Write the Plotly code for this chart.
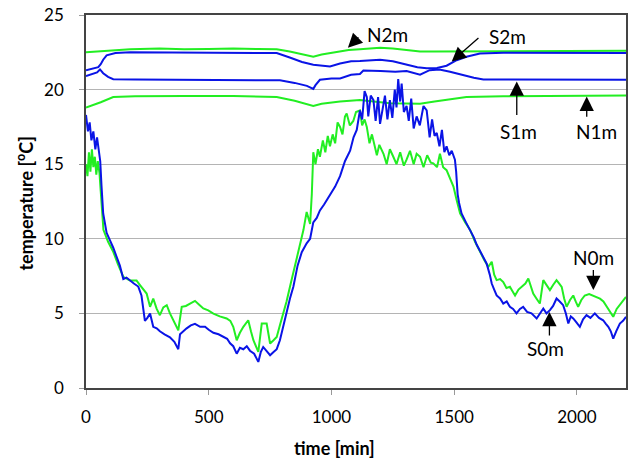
import plotly.graph_objects as go

# ---------------- data ----------------
s0_t = [0,8,15,22,30,38,45,52,58,63,70,84,111,138,152,165,179,195,213,226,240,250,261,274,288,301,320,342,360,376,383,396,410,427,444,465,485,500,519,540,560,575,587,600,614,627,641,655,668,685,702,712,722,736,750,763,777,790,804,817,831,845,862,879,899,913,926,940,953,970,994,1015,1035,1055,1076,1090,1103,1116,1125,1135,1144,1150,1160,1171,1180,1190,1198,1210,1218,1228,1238,1248,1258,1265,1272,1280,1286,1295,1306,1315,1325,1335,1347,1360,1375,1388,1400,1410,1420,1429,1440,1450,1460,1469,1480,1490,1503,1508,1514,1520,1530,1548,1565,1580,1592,1612,1632,1645,1653,1663,1673,1687,1700,1714,1727,1740,1754,1768,1781,1797,1815,1836,1850,1863,1876,1890,1903,1917,1930,1944,1955,1965,1975,1985,1998,2012,2025,2039,2055,2073,2090,2107,2118,2128,2138,2148,2160,2175,2188,2200]
s0_v = [18.3,17.2,17.8,16.6,17.2,16.0,16.8,15.8,15.2,13.6,11.7,10.4,9.4,8.2,7.3,7.4,7.2,7.0,6.8,6.2,4.5,4.7,5.0,4.1,4.0,3.8,3.6,3.4,3.1,2.6,3.6,3.8,4.0,4.2,4.3,4.1,4.1,3.9,3.7,3.6,3.4,3.3,3.0,2.8,2.3,2.7,2.6,2.8,2.5,2.3,1.75,2.4,2.75,2.5,2.2,2.4,2.6,3.2,4.2,5.2,6.0,6.8,8.2,9.1,9.7,10.0,11.1,11.4,11.9,12.3,12.9,13.5,14.2,15.2,15.9,16.8,17.3,18.6,18.0,19.9,19.5,18.2,19.6,19.3,17.9,19.5,17.7,19.0,19.6,18.0,19.3,18.1,20.0,18.8,20.7,19.2,20.4,18.5,18.9,17.9,19.4,17.4,18.2,17.6,18.9,18.6,16.8,18.0,16.9,17.1,16.2,17.3,15.8,16.2,15.6,15.9,15.3,14.5,13.0,12.4,11.7,11.1,10.6,10.1,9.6,9.0,8.35,7.6,7.0,6.6,6.2,6.0,5.66,5.8,5.44,5.3,5.0,5.3,5.44,5.1,5.0,4.66,5.0,5.33,5.0,5.22,5.5,6.0,5.8,5.55,5.0,4.32,4.8,4.66,4.4,4.1,4.6,4.88,4.7,5.0,4.7,4.54,4.3,4.1,3.8,3.31,3.8,4.32,4.5,4.77]

n0_t = [0,6,12,18,24,30,36,42,48,55,60,65,71,90,111,130,152,179,206,220,234,247,261,274,288,301,315,329,342,356,366,376,390,407,424,444,460,478,498,519,545,573,588,600,614,627,641,661,672,682,702,716,736,750,764,777,790,804,817,831,852,872,886,899,913,920,926,935,945,953,965,975,985,994,1005,1015,1025,1035,1045,1055,1062,1075,1089,1100,1116,1125,1135,1144,1155,1165,1171,1185,1195,1212,1225,1238,1252,1265,1280,1295,1306,1320,1335,1347,1361,1375,1390,1405,1415,1430,1442,1455,1469,1480,1497,1510,1524,1545,1565,1585,1605,1622,1639,1653,1663,1673,1687,1700,1713,1727,1737,1748,1762,1775,1790,1802,1812,1822,1835,1849,1863,1876,1890,1903,1917,1928,1938,1948,1958,1972,1985,1995,2005,2018,2032,2050,2066,2080,2094,2108,2121,2135,2148,2162,2175,2188,2200]
n0_v = [15.0,14.2,15.8,14.5,16.0,14.8,15.5,14.3,15.2,14.4,13.2,11.8,10.6,9.8,9.13,8.3,7.45,7.2,7.2,6.9,6.56,6.33,5.44,5.99,5.3,4.88,5.4,5.55,5.0,4.54,4.3,3.87,5.44,5.5,5.66,5.84,5.6,5.33,5.2,4.99,4.8,4.66,4.5,4.1,3.2,3.7,4.1,4.54,3.8,3.2,2.42,4.32,4.32,2.98,3.2,3.42,4.2,5.0,5.8,6.78,8.2,9.69,10.6,11.8,11.0,13.0,15.8,15.0,16.0,15.5,16.6,15.8,16.9,16.2,17.0,16.4,17.8,17.5,17.0,18.2,18.4,17.6,17.9,18.5,18.6,17.6,18.0,17.5,16.4,17.0,16.6,15.6,16.3,15.7,15.0,16.0,15.5,15.0,15.8,14.9,15.3,15.9,15.0,15.7,15.5,14.8,15.6,15.1,15.06,14.8,15.7,14.8,14.6,14.2,13.5,12.6,11.7,11.1,10.6,9.8,9.13,8.6,8.12,8.46,7.6,7.23,7.3,7.1,6.7,6.78,6.5,6.2,6.6,6.78,7.0,7.34,6.9,6.33,6.0,5.66,7.23,6.9,6.56,6.9,7.23,7.0,6.78,6.0,5.44,5.9,6.2,5.8,5.44,5.9,6.2,6.3,6.2,6.1,5.99,5.8,5.44,5.1,4.77,5.3,5.55,5.8,6.1]

s1_t = [0,20,45,57,70,90,111,200,400,600,790,850,900,926,935,953,1000,1035,1080,1116,1130,1200,1260,1306,1340,1361,1400,1440,1483,1530,1580,1619,1800,2000,2200]
s1_v = [20.9,21.0,21.15,21.35,21.1,20.85,20.7,20.68,20.66,20.66,20.62,20.45,20.25,20.05,20.3,20.66,20.75,20.75,21.0,21.05,21.28,21.25,21.2,21.25,21.1,21.0,21.3,21.35,21.2,21.0,20.8,20.68,20.66,20.66,20.66]

n1_t = [0,30,60,111,200,400,600,777,850,926,960,1035,1116,1238,1300,1361,1420,1480,1550,1700,1900,2200]
n1_v = [18.8,18.95,19.15,19.5,19.55,19.57,19.57,19.5,19.25,18.9,19.05,19.2,19.3,19.08,19.05,19.05,19.2,19.35,19.5,19.55,19.57,19.6]

s2_t = [0,30,50,60,70,84,120,180,400,600,777,830,880,926,960,994,1035,1080,1116,1160,1198,1250,1306,1350,1388,1430,1469,1490,1510,1550,1605,1700,1900,2200]
s2_v = [21.3,21.4,21.5,21.7,22.0,22.3,22.45,22.5,22.5,22.5,22.45,22.15,21.85,21.66,21.6,21.55,21.75,21.9,21.92,21.98,22.0,21.9,21.7,21.5,21.43,21.45,21.6,21.8,21.97,22.2,22.42,22.47,22.47,22.45]

n2_t = [0,50,100,180,300,400,500,600,700,777,830,880,926,960,1000,1035,1070,1116,1160,1198,1250,1300,1361,1420,1500,1600,1800,2000,2200]
n2_v = [22.5,22.55,22.65,22.7,22.75,22.7,22.72,22.75,22.72,22.7,22.55,22.35,22.2,22.35,22.45,22.55,22.65,22.7,22.75,22.8,22.75,22.65,22.55,22.55,22.55,22.55,22.55,22.58,22.6]

labels = ["N2m", "S2m", "S1m", "N1m", "N0m", "S0m"]
# (head_t, head_v, tail_t, tail_v, text_t, text_v)
label_pos = {
    "N2m": (1067, 22.8, 1116, 23.6, 1230, 23.67),
    "S2m": (1490, 21.88, 1605, 23.54, 1719, 23.54),
    "S1m": (1755, 20.54, 1755, 18.19, 1761, 17.18),
    "N1m": (2040, 19.53, 2040, 18.08, 2081, 17.18),
    "N0m": (2067, 6.56, 2067, 8.01, 2067, 8.72),
    "S0m": (1888, 5.1, 1888, 3.42, 1870, 2.64),
}

x_ticks = [0, 500, 1000, 1500, 2000]
y_ticks = [0, 5, 10, 15, 20, 25]

GREEN = "#22ee22"
BLUE = "#0a14e6"
FONT = "Lato"

fig = go.Figure()
for t, v, c in [(n2_t, n2_v, GREEN), (n1_t, n1_v, GREEN), (n0_t, n0_v, GREEN),
                (s2_t, s2_v, BLUE), (s1_t, s1_v, BLUE), (s0_t, s0_v, BLUE)]:
    fig.add_trace(go.Scatter(x=t, y=v, mode="lines", line=dict(color=c, width=2),
                             showlegend=False, hoverinfo="skip"))

for name in labels:
    ht, hv, tt, tv, xt, yt = label_pos[name]
    fig.add_annotation(x=ht, y=hv, ax=tt, ay=tv, axref="x", ayref="y", xref="x", yref="y",
                       text="", showarrow=True, arrowhead=2, arrowsize=2.2, arrowwidth=1.3,
                       arrowcolor="black", standoff=0, startstandoff=0)
    fig.add_annotation(x=xt, y=yt, xref="x", yref="y", text=name, showarrow=False,
                       font=dict(family=FONT, size=19, color="black"))

fig.add_annotation(x=-0.113, y=0.497, xref="paper", yref="paper", textangle=-90,
                   text="<b>temperature [<sup>o</sup>C]</b>", showarrow=False,
                   xanchor="center", yanchor="middle",
                   font=dict(family=FONT, size=18, color="black"))
fig.add_annotation(x=0.461, y=-0.161, xref="paper", yref="paper",
                   text="<b>time [min]</b>", showarrow=False,
                   xanchor="center", yanchor="middle",
                   font=dict(family=FONT, size=18, color="black"))

fig.update_layout(
    width=634, height=459,
    margin=dict(l=86, r=8, t=15, b=71, autoexpand=False),
    paper_bgcolor="white", plot_bgcolor="white",
    font=dict(family=FONT, size=17, color="black"),
    xaxis=dict(range=[0, 2200], tickvals=x_ticks, showgrid=False, zeroline=False,
               automargin=False,
               showline=True, linecolor="#444444", linewidth=1.5, mirror=True,
               ticks="outside", ticklen=5, tickcolor="#999999", ticklabelstandoff=8),
    yaxis=dict(range=[0, 25], tickvals=y_ticks, showgrid=True, gridcolor="#b4b4b4", gridwidth=1,
               automargin=False,
               zeroline=False, showline=True, linecolor="#444444", linewidth=1.5, mirror=True,
               ticks="outside", ticklen=5, tickcolor="#999999", ticklabelstandoff=12),
)

fig.write_html("out.html", config={"displayModeBar": False},
               post_script="document.body.style.margin='0';document.body.style.padding='0';")
